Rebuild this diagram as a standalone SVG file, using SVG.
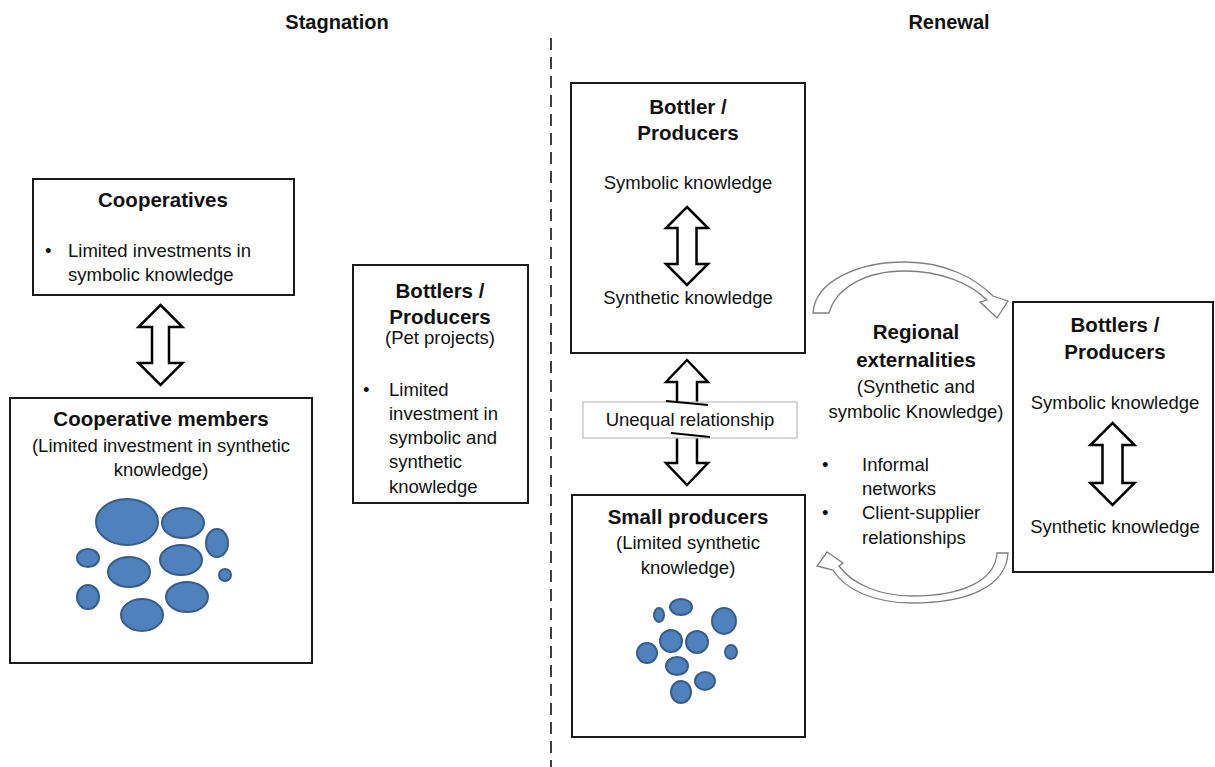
<svg xmlns="http://www.w3.org/2000/svg" width="1215" height="767" viewBox="0 0 1215 767">
<style>
text{font-family:"Liberation Sans",Arial,sans-serif;fill:#111}
.b{font-size:18.5px}
.t{font-size:20.5px;font-weight:bold}
.h{font-size:20px;font-weight:bold}
.m{text-anchor:middle}
.box{fill:#fff;stroke:#1a1a1a;stroke-width:2}
.dbl{fill:#fff;stroke:#000;stroke-width:2.5;stroke-linejoin:miter}
.cur{fill:#fff;stroke:#7f7f7f;stroke-width:1.3}
.e{fill:#4f81bd;stroke:#385d8a;stroke-width:2}
</style>
<rect width="1215" height="767" fill="#fff"/>
<g id="headers">
<text class="h m" x="337" y="29">Stagnation</text>
<text class="h m" x="949" y="29">Renewal</text>
</g>
<line x1="551" y1="38" x2="551" y2="767" stroke="#000" stroke-width="1.5" stroke-dasharray="12 7"/>
<g id="cooperatives">
<rect class="box" x="33" y="179" width="261" height="116"/>
<text class="t m" x="163" y="207">Cooperatives</text>
<text class="b" x="45" y="257">•</text>
<text class="b" x="68" y="257">Limited investments in</text>
<text class="b" x="68" y="281">symbolic knowledge</text>
</g>
<g id="coop-members">
<rect class="box" x="10" y="398" width="302" height="265"/>
<text class="t m" x="161" y="426">Cooperative members</text>
<text class="b m" x="161" y="452">(Limited investment in synthetic</text>
<text class="b m" x="161" y="476">knowledge)</text>
<ellipse class="e" cx="127" cy="522" rx="31" ry="23"/>
<ellipse class="e" cx="183" cy="523" rx="21" ry="15"/>
<ellipse class="e" cx="217" cy="543" rx="11" ry="14"/>
<ellipse class="e" cx="88" cy="558" rx="11" ry="9"/>
<ellipse class="e" cx="129" cy="572" rx="21" ry="15"/>
<ellipse class="e" cx="181" cy="560" rx="21" ry="15"/>
<ellipse class="e" cx="225" cy="575" rx="6" ry="6"/>
<ellipse class="e" cx="88" cy="597" rx="11" ry="12"/>
<ellipse class="e" cx="187" cy="597" rx="21" ry="15"/>
<ellipse class="e" cx="142" cy="615" rx="21" ry="16"/>
</g>
<g id="pet-projects">
<rect class="box" x="353" y="265" width="175" height="238"/>
<text class="t m" x="440" y="298">Bottlers /</text>
<text class="t m" x="440" y="324">Producers</text>
<text class="b m" x="440" y="344">(Pet projects)</text>
<text class="b" x="363" y="396">•</text>
<text class="b" x="389" y="396">Limited</text>
<text class="b" x="389" y="420">investment in</text>
<text class="b" x="389" y="444">symbolic and</text>
<text class="b" x="389" y="468">synthetic</text>
<text class="b" x="389" y="493">knowledge</text>
</g>
<g id="bottler-top">
<rect class="box" x="571" y="83" width="234" height="270"/>
<text class="t m" x="688" y="114">Bottler /</text>
<text class="t m" x="688" y="140">Producers</text>
<text class="b m" x="688" y="189">Symbolic knowledge</text>
<text class="b m" x="688" y="304">Synthetic knowledge</text>
</g>
<g id="small-producers">
<rect class="box" x="572" y="495" width="233" height="242"/>
<text class="t m" x="688" y="524">Small producers</text>
<text class="b m" x="688" y="549">(Limited synthetic</text>
<text class="b m" x="688" y="574">knowledge)</text>
<ellipse class="e" cx="659" cy="615" rx="5" ry="7"/>
<ellipse class="e" cx="681" cy="607" rx="11" ry="8"/>
<ellipse class="e" cx="724" cy="621" rx="12" ry="13"/>
<ellipse class="e" cx="671" cy="641" rx="11" ry="11"/>
<ellipse class="e" cx="697" cy="642" rx="11" ry="11"/>
<ellipse class="e" cx="647" cy="653" rx="10" ry="10"/>
<ellipse class="e" cx="731" cy="652" rx="6" ry="7"/>
<ellipse class="e" cx="677" cy="666" rx="11" ry="9"/>
<ellipse class="e" cx="705" cy="681" rx="10" ry="9"/>
<ellipse class="e" cx="681" cy="692" rx="10" ry="11"/>
</g>
<g id="regional-externalities">
<text class="t m" x="916" y="339">Regional</text>
<text class="t m" x="916" y="367">externalities</text>
<text class="b m" x="916" y="393">(Synthetic and</text>
<text class="b m" x="916" y="418">symbolic Knowledge)</text>
<text class="b" x="822" y="471">•</text>
<text class="b" x="862" y="471">Informal</text>
<text class="b" x="862" y="495">networks</text>
<text class="b" x="822" y="519">•</text>
<text class="b" x="862" y="519">Client-supplier</text>
<text class="b" x="862" y="544">relationships</text>
</g>
<g id="bottlers-right">
<rect class="box" x="1013" y="302" width="200" height="270"/>
<text class="t m" x="1115" y="332">Bottlers /</text>
<text class="t m" x="1115" y="359">Producers</text>
<text class="b m" x="1115" y="409">Symbolic knowledge</text>
<text class="b m" x="1115" y="533">Synthetic knowledge</text>
</g>
<g id="connectors">
<path class="dbl" d="M160.5 305 L182.5 327 L169 327 L169 363 L182.5 363 L160.5 385 L138.5 363 L152 363 L152 327 L138.5 327 Z"/>
<path class="dbl" d="M687 207 L708 228 L696.5 228 L696.5 264 L708 264 L687 285 L666 264 L677.5 264 L677.5 228 L666 228 Z"/>
<path class="dbl" d="M1112.5 423 L1134.5 445 L1122.5 445 L1122.5 483 L1134.5 483 L1112.5 505 L1090.5 483 L1102.5 483 L1102.5 445 L1090.5 445 Z"/>
<path class="dbl" d="M687 360 L708 382 L697 382 L697 463 L708 463 L687 485 L666 463 L677 463 L677 382 L666 382 Z"/>
<path class="cur" d="M813 313 C815 280 860 262 905 262 C945 262 975 278 993 296 L1008 301 L997 318 L980 302 L987 300 C970 283 940 271 905 271 C865 271 836 288 829 313 Z"/>
<path class="cur" d="M1008 553 C1006 588 965 603 912 603 C875 603 845 590 833 570 L817 566 L827 552 L843 563 L839 566 C852 584 880 596 912 596 C960 596 995 582 997 553 Z"/>
</g>
<g id="unequal-label">
<rect x="583" y="402" width="214" height="36" fill="#fff" stroke="#bfbfbf" stroke-width="1.2"/>
<text class="b m" x="690" y="426">Unequal relationship</text>
<path d="M666 401 L708 405 M671 433 L710 437" stroke="#000" stroke-width="2" fill="none"/>
</g>
</svg>
